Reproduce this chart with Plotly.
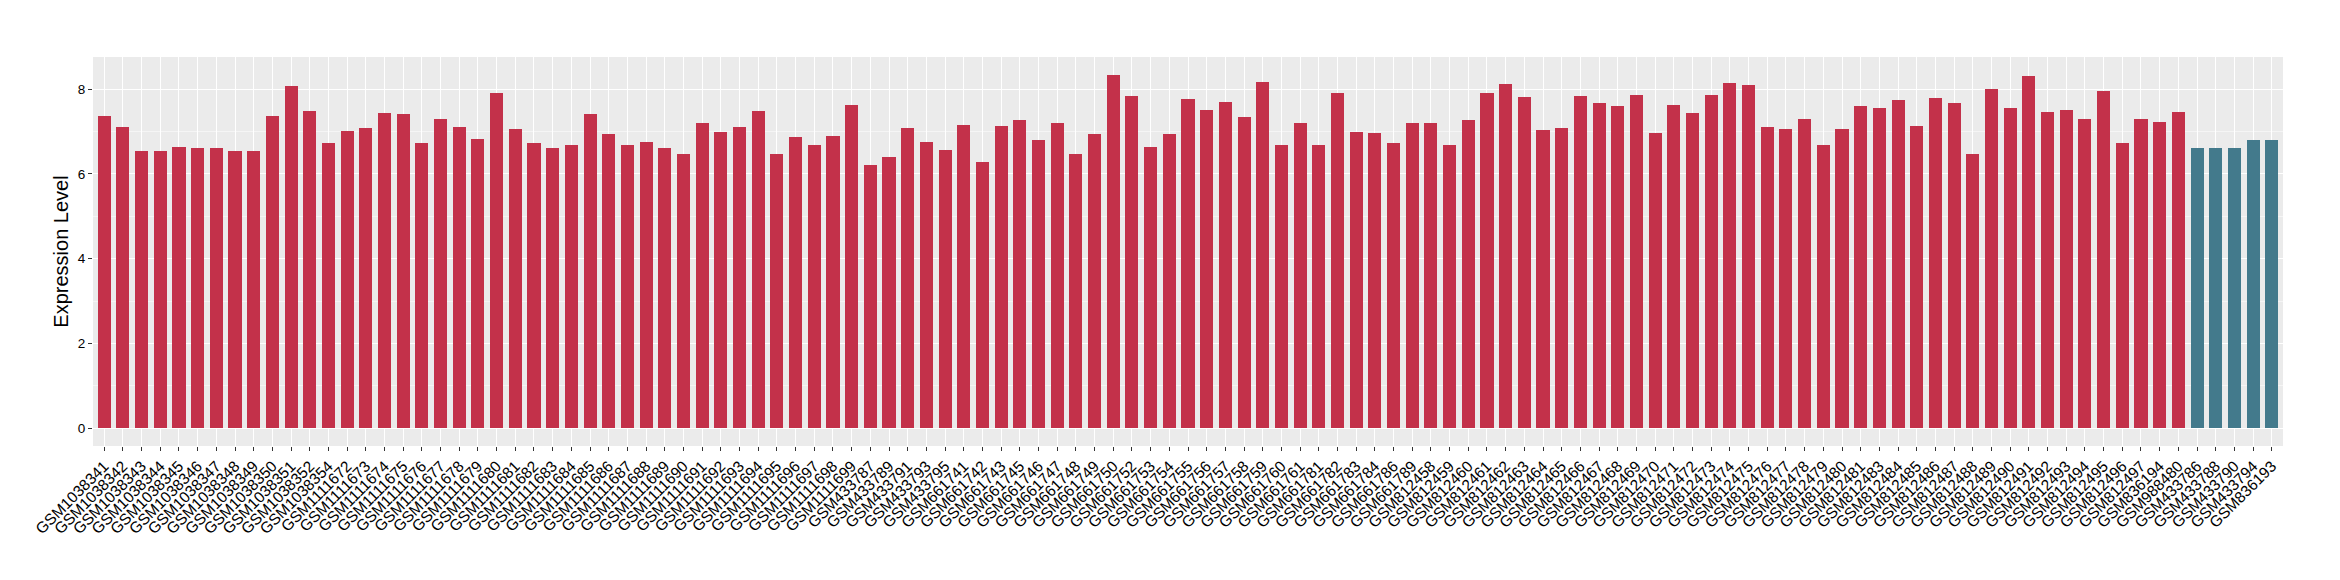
import plotly.graph_objects as go

samples = [
    "GSM1038341", "GSM1038342", "GSM1038343", "GSM1038344", "GSM1038345", "GSM1038346",
    "GSM1038347", "GSM1038348", "GSM1038349", "GSM1038350", "GSM1038351", "GSM1038352",
    "GSM1038354",
    "GSM1111672", "GSM1111673", "GSM1111674", "GSM1111675", "GSM1111676", "GSM1111677",
    "GSM1111678", "GSM1111679", "GSM1111680", "GSM1111681", "GSM1111682", "GSM1111683",
    "GSM1111684", "GSM1111685", "GSM1111686", "GSM1111687", "GSM1111688", "GSM1111689",
    "GSM1111690", "GSM1111691", "GSM1111692", "GSM1111693", "GSM1111694", "GSM1111695",
    "GSM1111696", "GSM1111697", "GSM1111698", "GSM1111699",
    "GSM433787", "GSM433789", "GSM433791", "GSM433793", "GSM433795",
    "GSM661741", "GSM661742", "GSM661743", "GSM661745", "GSM661746", "GSM661747",
    "GSM661748", "GSM661749", "GSM661750", "GSM661752", "GSM661753", "GSM661754",
    "GSM661755", "GSM661756", "GSM661757", "GSM661758", "GSM661759", "GSM661760",
    "GSM661761", "GSM661781", "GSM661782", "GSM661783", "GSM661784", "GSM661786",
    "GSM661789",
    "GSM812458", "GSM812459", "GSM812460", "GSM812461", "GSM812462", "GSM812463",
    "GSM812464", "GSM812465", "GSM812466", "GSM812467", "GSM812468", "GSM812469",
    "GSM812470", "GSM812471", "GSM812472", "GSM812473", "GSM812474", "GSM812475",
    "GSM812476", "GSM812477", "GSM812478", "GSM812479", "GSM812480", "GSM812481",
    "GSM812483", "GSM812484", "GSM812485", "GSM812486", "GSM812487", "GSM812488",
    "GSM812489", "GSM812490", "GSM812491", "GSM812492", "GSM812493", "GSM812494",
    "GSM812495", "GSM812496", "GSM812497",
    "GSM836194", "GSM988480",
    "GSM433786", "GSM433788", "GSM433790", "GSM433794", "GSM836193",
]

values = [
    7.37, 7.11, 6.55, 6.53, 6.64, 6.62, 6.60, 6.53, 6.53, 7.37, 8.08, 7.49, 6.72,
    7.02, 7.09, 7.44, 7.42, 6.72, 7.30, 7.11, 6.83, 7.91, 7.07, 6.74, 6.62, 6.69,
    7.42, 6.93, 6.69, 6.76, 6.62, 6.46, 7.21, 7.00, 7.11, 7.49, 6.46, 6.88, 6.69,
    6.90, 7.63,
    6.20, 6.39, 7.09, 6.76, 6.57,
    7.16, 6.27, 7.14, 7.26, 6.81, 7.21, 6.48, 6.95, 8.34, 7.84, 6.64, 6.95, 7.77,
    7.51, 7.70, 7.35, 8.17, 6.69, 7.19, 6.67, 7.91, 7.00, 6.97, 6.72, 7.21,
    7.19, 6.67, 7.26, 7.91, 8.13, 7.82, 7.04, 7.09, 7.84, 7.68, 7.61, 7.87, 6.97,
    7.63, 7.44, 7.87, 8.15, 8.10, 7.11, 7.07, 7.30, 6.69, 7.07, 7.61, 7.56, 7.75,
    7.14, 7.80, 7.68, 6.48, 8.01, 7.56, 8.31, 7.47, 7.51, 7.30, 7.96, 6.72, 7.30,
    7.23, 7.47,
    6.60, 6.62, 6.60, 6.79, 6.79,
]

groups = ["Tumor"] * 112 + ["Normal"] * 5
group_colors = {"Tumor": "#C3314A", "Normal": "#437A8C"}

fig = go.Figure()
fig.add_trace(go.Bar(
    x=samples,
    y=values,
    width=0.7,
    marker=dict(color=[group_colors[g] for g in groups], line=dict(width=0)),
    showlegend=False,
))

fig.update_layout(
    width=2340,
    height=580,
    paper_bgcolor="white",
    plot_bgcolor="#EBEBEB",
    margin=dict(l=85, r=65, t=49, b=142, autoexpand=False),
    font=dict(family="Liberation Sans, Arial, sans-serif", color="black"),
    bargap=0,
)

fig.update_xaxes(
    type="category",
    categoryorder="array",
    categoryarray=samples,
    range=[-0.6, len(samples) - 0.4],
    tickmode="linear",
    tick0=0,
    dtick=1,
    tickangle=-45,
    tickfont=dict(size=15.5, color="black"),
    showgrid=True,
    gridcolor="white",
    gridwidth=1.2,
    ticks="outside",
    ticklen=4,
    tickcolor="#333333",
    tickwidth=1,
    zeroline=False,
    showline=False,
)

fig.update_yaxes(
    range=[-0.417, 8.757],
    tickvals=[0, 2, 4, 6, 8],
    tickfont=dict(size=13.5, color="black"),
    showgrid=True,
    gridcolor="white",
    gridwidth=1.2,
    minor=dict(tickvals=[1, 3, 5, 7], showgrid=True, gridcolor="#F5F5F5", gridwidth=0.6, ticks=""),
    ticks="outside",
    ticklen=4,
    tickcolor="#333333",
    tickwidth=1,
    zeroline=False,
    showline=False,
    title=dict(text="Expression Level", font=dict(size=20, color="black"), standoff=3),
)

fig.write_html("out.html")
